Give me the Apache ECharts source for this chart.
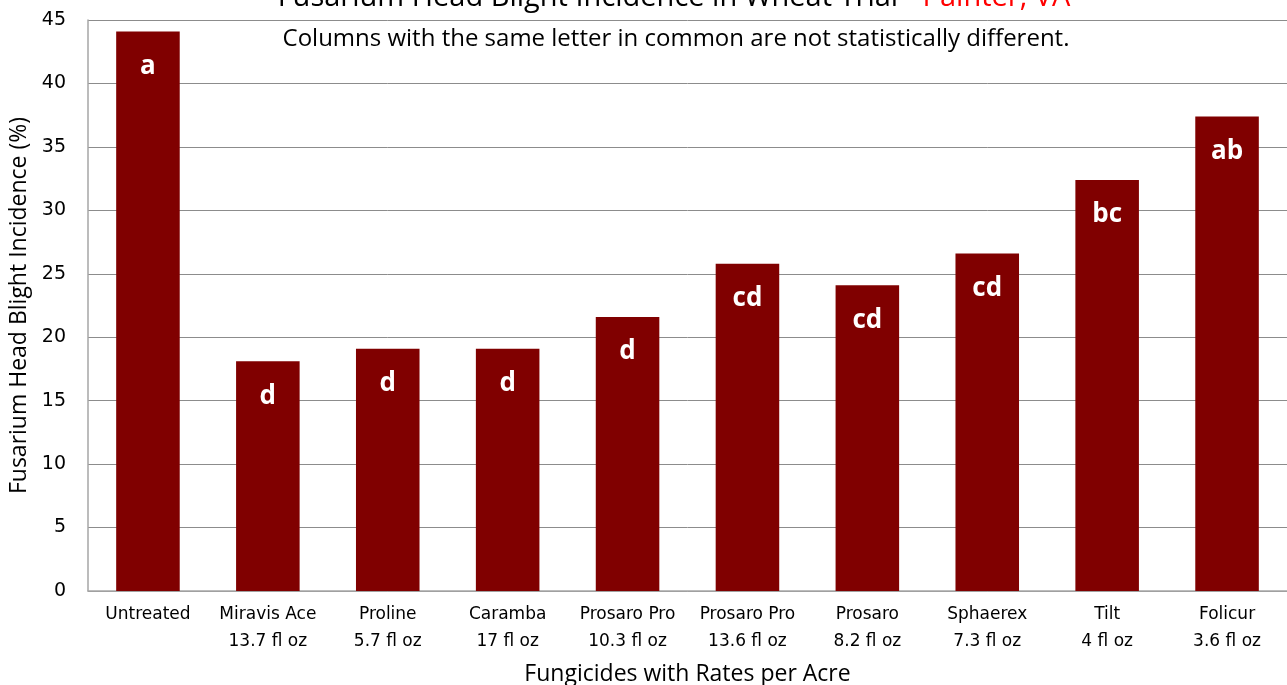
<!DOCTYPE html>
<html>
<head>
<meta charset="utf-8">
<script src="https://cdn.jsdelivr.net/npm/echarts@6/dist/echarts.min.js"></script>
<style>
html,body{margin:0;padding:0;background:#fff;}
#chart{width:1287px;height:685px;}
</style>
</head>
<body>
<div id="chart"></div>
<script>
const products = ['Untreated','Miravis Ace','Proline','Caramba','Prosaro Pro','Prosaro Pro','Prosaro','Sphaerex','Tilt','Folicur'];
const rates = ['','13.7 fl oz','5.7 fl oz','17 fl oz','10.3 fl oz','13.6 fl oz','8.2 fl oz','7.3 fl oz','4 fl oz','3.6 fl oz'];
const incidence = [44.1, 18.1, 19.1, 19.1, 21.6, 25.8, 24.1, 26.6, 32.4, 37.4];
const letters = ['a','d','d','d','d','cd','cd','cd','bc','ab'];
const yTicks = {min: 0, max: 45, interval: 5};

const categories = products.map((p, i) => rates[i] ? p + '\n' + rates[i] : p);

const chart = echarts.init(document.getElementById('chart'));
chart.setOption({
  animation: false,
  backgroundColor: '#fff',
  title: [{
    text: '{b|Fusarium Head Blight Incidence in Wheat Trial - }{r|Painter, VA}',
    left: 669,
    textAlign: 'center',
    top: -22,
    textStyle: {
      rich: {
        b: {fontFamily: 'Open Sans', fontSize: 29, fontWeight: 'normal', color: '#000'},
        r: {fontFamily: 'Open Sans', fontSize: 29, fontWeight: 'normal', color: '#ff0000'}
      }
    }
  }, {
    text: 'Columns with the same letter in common are not statistically different.',
    left: 671,
    textAlign: 'center',
    top: 22,
    textStyle: {fontFamily: 'Open Sans', fontSize: 24, fontWeight: 'normal', color: '#000'}
  }],
  grid: {left: 88, right: 0, top: 20, bottom: 94, containLabel: false, outerBoundsMode: 'none'},
  xAxis: {
    type: 'category',
    data: categories,
    axisLine: {lineStyle: {color: '#a6a6a6', width: 1.5}},
    axisTick: {show: false},
    axisLabel: {color: '#000', fontFamily: 'DejaVu Sans', fontSize: 17, lineHeight: 27, margin: 10, interval: 0},
    name: 'Fungicides with Rates per Acre',
    nameLocation: 'middle',
    nameGap: 72,
    nameTextStyle: {fontFamily: 'Open Sans', fontSize: 23, color: '#000'}
  },
  yAxis: {
    type: 'value',
    min: yTicks.min, max: yTicks.max, interval: yTicks.interval,
    axisLine: {show: true, lineStyle: {color: '#a6a6a6', width: 1.5}},
    axisTick: {show: false},
    splitLine: {lineStyle: {color: '#8c8c8c', width: 1}},
    axisLabel: {color: '#000', fontFamily: 'DejaVu Sans', fontSize: 19, margin: 22},
    name: 'Fusarium Head Blight Incidence (%)',
    nameLocation: 'middle',
    nameGap: 56,
    nameTextStyle: {fontFamily: 'Open Sans', fontSize: 23, color: '#000'}
  },
  series: [{
    type: 'bar',
    data: incidence,
    barWidth: '53%',
    itemStyle: {color: '#800000'},
    label: {
      show: true,
      position: 'insideTop',
      distance: 22,
      formatter: p => letters[p.dataIndex],
      color: '#fff',
      fontFamily: 'Open Sans',
      fontWeight: 'bold',
      fontSize: 26
    }
  }]
});
</script>
</body>
</html>
